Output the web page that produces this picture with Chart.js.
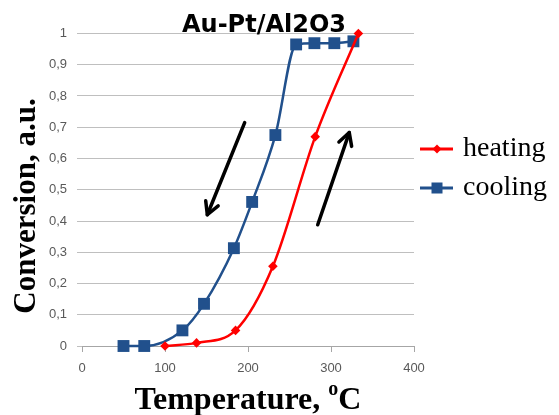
<!DOCTYPE html>
<html><head><meta charset="utf-8">
<script src="https://cdn.jsdelivr.net/npm/chart.js@4/dist/chart.umd.min.js"></script>
<style>html,body{margin:0;padding:0;background:#fff}#wrap{width:559px;height:415px;position:relative}</style>
</head><body><div id="wrap"><canvas id="c" width="559" height="415"></canvas></div>
<script>
const chartTitle = 'Au-Pt/Al2O3';
const xTitleMain = 'Temperature, ';
const xTitleSup = 'o';
const xTitleEnd = 'C';
const yAxisTitle = 'Conversion, a.u.';
const xTickValues = [0, 100, 200, 300, 400];
const yTickLabels = ['0', '0,1', '0,2', '0,3', '0,4', '0,5', '0,6', '0,7', '0,8', '0,9', '1'];
const seriesNames = ['heating', 'cooling'];
const heatingT = [100, 138, 185, 230, 281, 333];
const heatingConv = [0, 0.01, 0.05, 0.255, 0.67, 1.0];
const coolingT = [50, 75, 121, 147, 183, 205, 233, 258, 280, 304, 327];
const coolingConv = [0, 0, 0.05, 0.135, 0.313, 0.461, 0.675, 0.965, 0.969, 0.969, 0.975];
// direction arrows (data units): [fromT, fromConv, toT, toConv]
const arrowCool = [196, 0.715, 151, 0.42];
const arrowHeat = [284, 0.388, 322, 0.683];

const RED = '#ff0000';
const BLUE = '#21508c';

const decor = {
  id: 'decor',
  afterDatasetsDraw(chart) {
    const ctx = chart.ctx, xs = chart.scales.x, ys = chart.scales.y;
    ctx.save();
    [arrowCool, arrowHeat].forEach(a => {
      const x1 = xs.getPixelForValue(a[0]), y1 = ys.getPixelForValue(a[1]);
      const x2 = xs.getPixelForValue(a[2]), y2 = ys.getPixelForValue(a[3]);
      const ang = Math.atan2(y2 - y1, x2 - x1);
      ctx.strokeStyle = '#000'; ctx.lineWidth = 3.5; ctx.lineCap = 'round'; ctx.lineJoin = 'round';
      ctx.beginPath(); ctx.moveTo(x1, y1); ctx.lineTo(x2, y2); ctx.stroke();
      const L = 14, spread = 0.5;
      ctx.beginPath();
      ctx.moveTo(x2 - L * Math.cos(ang - spread), y2 - L * Math.sin(ang - spread));
      ctx.lineTo(x2, y2);
      ctx.lineTo(x2 - L * Math.cos(ang + spread), y2 - L * Math.sin(ang + spread));
      ctx.stroke();
    });
    ctx.restore();
  },
  afterDraw(chart) {
    const ctx = chart.ctx, ca = chart.chartArea;
    ctx.save();
    ctx.fillStyle = '#000';
    ctx.font = 'bold 24px "DejaVu Sans"';
    ctx.textAlign = 'center'; ctx.textBaseline = 'alphabetic';
    ctx.fillText(chartTitle, (ca.left + ca.right) / 2 + 16, 32);
    ctx.save();
    ctx.translate(35, 206);
    ctx.rotate(-Math.PI / 2);
    ctx.font = 'bold 31px "Liberation Serif"';
    ctx.textAlign = 'center';
    ctx.fillText(yAxisTitle, 0, 0);
    ctx.restore();
    const fMain = 'bold 32px "Liberation Serif"', fSup = 'bold 20px "Liberation Serif"';
    ctx.textAlign = 'left';
    ctx.font = fMain; const w1 = ctx.measureText(xTitleMain).width, w3 = ctx.measureText(xTitleEnd).width;
    ctx.font = fSup; const w2 = ctx.measureText(xTitleSup).width;
    let x = (ca.left + ca.right) / 2 - (w1 + w2 + w3) / 2;
    const base = 409;
    ctx.font = fMain; ctx.fillText(xTitleMain, x, base); x += w1;
    ctx.font = fSup; ctx.fillText(xTitleSup, x, base - 14); x += w2;
    ctx.font = fMain; ctx.fillText(xTitleEnd, x, base);
    const items = chart.data.datasets;
    const ly = [149, 188];
    items.forEach((ds, i) => {
      const y = ly[i];
      ctx.strokeStyle = ds.borderColor; ctx.lineWidth = 3;
      ctx.beginPath(); ctx.moveTo(420, y); ctx.lineTo(453, y); ctx.stroke();
      ctx.fillStyle = ds.backgroundColor;
      if (ds.pointStyle === 'rect') {
        ctx.fillRect(437 - 5.5, y - 5.5, 11, 11);
      } else {
        ctx.beginPath(); ctx.moveTo(437, y - 4.5); ctx.lineTo(441.5, y); ctx.lineTo(437, y + 4.5); ctx.lineTo(432.5, y); ctx.closePath(); ctx.fill();
      }
      ctx.fillStyle = '#000';
      ctx.font = '28px "Liberation Serif"';
      ctx.textBaseline = 'alphabetic';
      ctx.fillText(ds.label, 463, y + 7);
    });
    ctx.restore();
  }
};

new Chart(document.getElementById('c'), {
  type: 'scatter',
  data: {
    datasets: [
      {
        label: seriesNames[0],
        data: heatingT.map((t, i) => ({ x: t, y: heatingConv[i] })),
        showLine: true, borderColor: RED, backgroundColor: RED, borderWidth: 2.5,
        pointStyle: 'rectRot', pointRadius: 4.8, pointBorderWidth: 0,
        cubicInterpolationMode: 'monotone', clip: false
      },
      {
        label: seriesNames[1],
        data: coolingT.map((t, i) => ({ x: t, y: coolingConv[i] })),
        showLine: true, borderColor: BLUE, backgroundColor: BLUE, borderWidth: 2.5,
        pointStyle: 'rect', pointRadius: 8.4, pointBorderWidth: 0,
        cubicInterpolationMode: 'monotone', clip: false
      }
    ]
  },
  options: {
    responsive: false, animation: false, devicePixelRatio: 1,
    layout: { padding: { left: 0, top: 33.5, right: 145, bottom: 0 } },
    plugins: { legend: { display: false }, tooltip: { enabled: false }, title: { display: false } },
    scales: {
      x: {
        type: 'linear', min: 0, max: 400,
        afterFit(s) { s.height = 69; },
        afterBuildTicks(s) { s.ticks = xTickValues.map(v => ({ value: v })); },
        ticks: { color: '#595959', font: { family: '"Liberation Sans"', size: 13 }, padding: 9, maxRotation: 0 },
        grid: { drawOnChartArea: false, drawTicks: true, tickLength: 6, color: '#a6a6a6' },
        border: { display: true, color: '#a6a6a6' }
      },
      y: {
        type: 'linear', min: 0, max: 1,
        afterFit(s) { s.width = 82; },
        afterBuildTicks(s) { s.ticks = yTickLabels.map((l, i) => ({ value: i / 10 })); },
        ticks: { color: '#595959', font: { family: '"Liberation Sans"', size: 13 }, padding: 10,
          callback: (v, i) => yTickLabels[i] },
        grid: { color: '#bfbfbf', drawTicks: true, tickLength: 5 },
        border: { display: false }
      }
    }
  },
  plugins: [decor]
});
</script>
</body></html>
